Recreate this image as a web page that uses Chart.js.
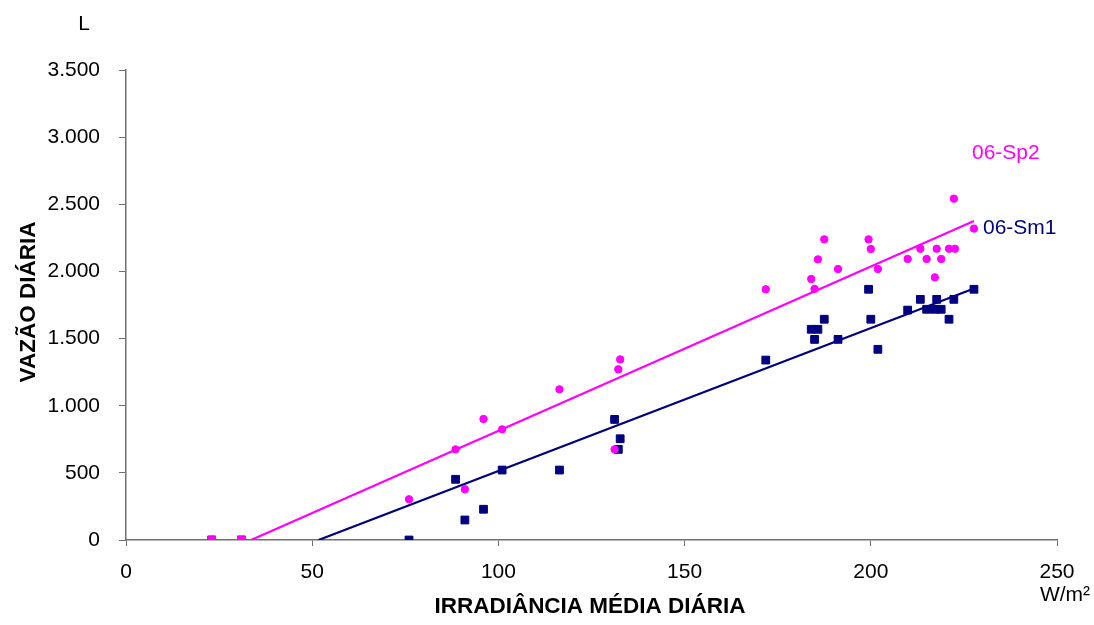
<!DOCTYPE html>
<html>
<head>
<meta charset="utf-8">
<script src="https://cdn.jsdelivr.net/npm/chart.js@4/dist/chart.umd.min.js"></script>
<style>
  html, body { margin: 0; padding: 0; background: #ffffff; }
  #wrap { width: 1094px; height: 625px; position: relative; }
</style>
</head>
<body>
<div id="wrap"><canvas id="chart" width="1094" height="625"></canvas></div>
<script>
// Daily mean irradiance (W/m²) for each measured day
const irradiance = [23, 31, 76, 88.5, 91, 96, 101, 116.4, 131.2, 132.2, 132.7, 171.8, 184, 184.9, 185.8, 187.5,
  191.2, 199.4, 200, 201.9, 209.9, 213.3, 215, 217.2, 217.7, 218.9, 221, 222.3, 222.6, 227.7];
// Daily flow (L) of pump 06-Sp2
const flowSp2 = [0, 0, 303, 675, 378, 901, 824, 1122, 675, 1271, 1345, 1867, 1944, 1870, 2090, 2239,
  2018, 2239, 2167, 2018, 2093, 2169, 2093, 1956, 2169, 2093, 2169, 2542, 2169, 2319];
// Daily flow (L) of pump 06-Sm1
const flowSm1 = [0, 0, 0, 452, 149, 229, 521, 521, 898, 675, 754, 1340, 1569, 1494, 1569, 1644,
  1494, 1867, 1644, 1420, 1712, 1792, 1718, 1718, 1792, 1718, 1644, 1792, null, 1867];
// Linear trends: [slope, intercept]
const trendSp2 = [12.24, -411];
const trendSm1 = [10.64, -550];
const trendEndX = 227.7;
const seriesNames = ['06-Sp2', '06-Sm1'];

const MAGENTA = '#ff00ff';
const NAVY = '#000080';
const FONT = '"Liberation Sans", Arial, sans-serif';

function points(ys) {
  const out = [];
  irradiance.forEach((x, i) => { if (ys[i] !== null) out.push({ x: x, y: ys[i] }); });
  return out;
}
function trendLine(t) {
  const x0 = -t[1] / t[0];
  return [{ x: x0, y: 0 }, { x: trendEndX, y: t[0] * trendEndX + t[1] }];
}
function thousands(v) {
  return String(v).replace(/\B(?=(\d{3})+(?!\d))/g, '.');
}

const annotations = {
  id: 'annotations',
  afterDraw(chart) {
    const ctx = chart.ctx;
    ctx.save();
    ctx.fillStyle = '#000';
    ctx.textAlign = 'center';
    ctx.textBaseline = 'middle';
    ctx.font = '21px ' + FONT;
    ctx.fillText('L', 84, 24);
    ctx.fillText('W/m²', 1065, 595);
    ctx.font = 'bold 22.5px ' + FONT;
    ctx.fillText('IRRADIÂNCIA MÉDIA DIÁRIA', 590, 607);
    ctx.save();
    ctx.translate(29, 302);
    ctx.rotate(-Math.PI / 2);
    ctx.fillText('VAZÃO DIÁRIA', 0, 0);
    ctx.restore();
    ctx.font = '21px ' + FONT;
    ctx.textAlign = 'left';
    ctx.fillStyle = MAGENTA;
    ctx.fillText(seriesNames[0], 972, 153);
    ctx.fillStyle = NAVY;
    ctx.fillText(seriesNames[1], 983, 228);
    ctx.restore();
  }
};

new Chart(document.getElementById('chart'), {
  type: 'scatter',
  data: {
    datasets: [
      {
        label: seriesNames[0],
        data: points(flowSp2),
        backgroundColor: MAGENTA,
        borderColor: MAGENTA,
        borderWidth: 1,
        pointStyle: (c) => (c.raw && c.raw.y === 0 ? 'rect' : 'circle'),
        pointRadius: (c) => (c.raw && c.raw.y === 0 ? 5.5 : 3.7),
        order: 1
      },
      {
        label: seriesNames[1],
        data: points(flowSm1),
        backgroundColor: NAVY,
        borderColor: NAVY,
        borderWidth: 1,
        pointStyle: 'rect',
        pointRadius: 5.5,
        order: 2
      },
      {
        label: seriesNames[0] + ' trend',
        data: trendLine(trendSp2),
        showLine: true,
        borderColor: MAGENTA,
        borderWidth: 2.2,
        pointRadius: 0,
        order: 3
      },
      {
        label: seriesNames[1] + ' trend',
        data: trendLine(trendSm1),
        showLine: true,
        borderColor: NAVY,
        borderWidth: 2.2,
        pointRadius: 0,
        order: 4
      }
    ]
  },
  options: {
    responsive: false,
    animation: false,
    events: [],
    layout: { padding: { top: 70, right: 37, left: 0, bottom: 0 } },
    plugins: { legend: { display: false }, tooltip: { enabled: false } },
    scales: {
      x: {
        type: 'linear',
        min: 0, max: 250,
        ticks: { stepSize: 50, color: '#000', font: { family: FONT, size: 21 }, padding: 14, maxRotation: 0 },
        grid: { drawOnChartArea: false, drawTicks: true, tickLength: 6, color: '#707070' },
        border: { display: true, color: '#707070', width: 1.5 },
        afterFit(s) { s.height = 85; }
      },
      y: {
        type: 'linear',
        min: 0, max: 3500,
        ticks: { stepSize: 500, color: '#000', font: { family: FONT, size: 21 }, padding: 19,
          callback: (v) => thousands(v) },
        grid: { drawOnChartArea: false, drawTicks: true, tickLength: 7, color: '#707070' },
        border: { display: true, color: '#707070', width: 1.5 },
        afterFit(s) { s.width = 126; }
      }
    }
  },
  plugins: [annotations]
});
</script>
</body>
</html>
